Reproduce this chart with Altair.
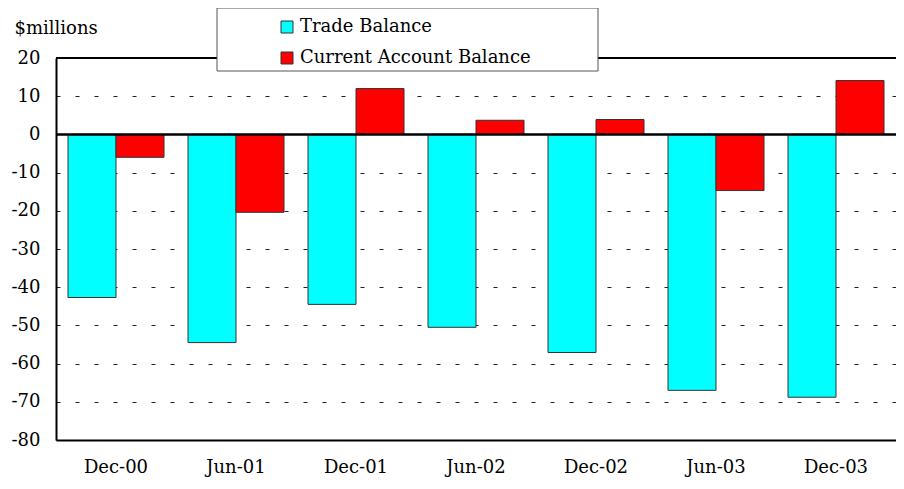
import altair as alt
import pandas as pd

periods = ["Dec-00", "Jun-01", "Dec-01", "Jun-02", "Dec-02", "Jun-03", "Dec-03"]
series_names = ["Trade Balance", "Current Account Balance"]
colors = ["#00FFFF", "#FF0000"]
trade = [-42.7, -54.5, -44.5, -50.5, -57.1, -67.0, -68.8]
current = [-6.0, -20.4, 12.0, 3.7, 3.9, -14.7, 14.1]
y_ticks = [20, 10, 0, -10, -20, -30, -40, -50, -60, -70, -80]

rows = []
for p, t, c in zip(periods, trade, current):
    rows.append({"period": p, "series": series_names[0], "value": t})
    rows.append({"period": p, "series": series_names[1], "value": c})
df = pd.DataFrame(rows)

FONT = "DejaVu Serif"
yscale = alt.Scale(domain=[-80, 20], nice=False, zero=False)

bars = alt.Chart(df).mark_bar(stroke="#333333", strokeWidth=1).encode(
    x=alt.X("period:N", sort=periods,
            scale=alt.Scale(paddingInner=0.2, paddingOuter=0.1),
            axis=alt.Axis(title=None, labelAngle=0, ticks=False, labelPadding=18,
                          domainWidth=2, domainColor="black", grid=False,
                          labelFont=FONT, labelFontSize=18, labelColor="black")),
    xOffset=alt.XOffset("series:N", sort=series_names),
    y=alt.Y("value:Q", scale=yscale,
            axis=alt.Axis(values=y_ticks, labelExpr="'' + datum.value", ticks=False,
                          labelOverlap=False,
                          labelPadding=16, domainWidth=2, domainColor="black",
                          labelFont=FONT, labelFontSize=18, labelColor="black",
                          grid=True, gridDash=[4, 15], gridColor="#222222", gridWidth=1,
                          title="$millions", titleAngle=0, titleX=-42, titleY=-30,
                          titleAlign="left", titleBaseline="middle",
                          titleFont=FONT, titleFontSize=18, titleFontWeight="normal",
                          titleColor="black")),
    color=alt.Color("series:N", sort=series_names,
                    scale=alt.Scale(domain=series_names, range=colors),
                    legend=alt.Legend(orient="none", legendX=222, legendY=-40, title=None,
                                      padding=0, symbolType="square", symbolSize=144,
                                      symbolStrokeColor="#333333", symbolStrokeWidth=1,
                                      labelFont=FONT, labelFontSize=18, labelColor="black",
                                      labelOffset=4, rowPadding=13, labelLimit=400)),
)

zero_rule = alt.Chart(pd.DataFrame({"y": [0]})).mark_rule(color="black", strokeWidth=2.5).encode(
    y=alt.Y("y:Q", scale=yscale, axis=None))
top_rule = alt.Chart(pd.DataFrame({"y": [20]})).mark_rule(color="black", strokeWidth=2).encode(
    y=alt.Y("y:Q", scale=yscale, axis=None))

legend_box = alt.Chart(pd.DataFrame({"a": [0]})).mark_rect(
    fill="white", stroke="#555555", strokeWidth=1).encode(
    x=alt.value(161), x2=alt.value(542), y=alt.value(-50), y2=alt.value(13))

chart = alt.layer(bars, zero_rule, top_rule, legend_box).resolve_axis(
    y="independent"
).properties(
    width=840, height=382,
    padding={"left": 48, "top": 50, "right": 0, "bottom": 41},
    autosize=alt.AutoSizeParams(type="none"),
).configure_view(stroke=None).configure(font=FONT)

chart.save("out.html", embed_options={"renderer": "svg", "actions": False})
